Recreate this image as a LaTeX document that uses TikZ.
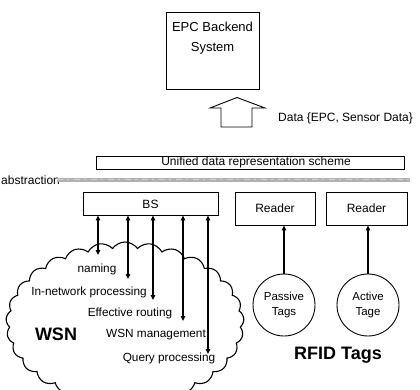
\documentclass[tikz,border=0pt]{standalone}
\usepackage{fontspec}
\setmainfont{Liberation Sans}
\usetikzlibrary{shapes.symbols,arrows.meta}
\begin{document}
\begin{tikzpicture}[x=1pt,y=-1pt,
  every node/.style={font=\fontsize{12}{14}\selectfont, inner sep=0pt},
  box/.style={draw, line width=0.9pt, minimum width=#1},
  tag/.style={draw, circle, line width=0.9pt, minimum size=62pt, align=center,
    font=\fontsize{11.5}{15}\selectfont},
  dbl/.style={line width=1.6pt, {Triangle[length=5pt,width=4.5pt]}-{Triangle[length=5pt,width=4.5pt]}},
  up/.style={line width=1.6pt, -{Triangle[length=5pt,width=4.5pt]}},
  item/.style={font=\fontsize{11.8}{14}\selectfont},
  big/.style={font=\fontsize{18}{20}\selectfont\bfseries}]
\useasboundingbox (0,0) rectangle (420,390);
\begin{scope}
\clip (0,0) rectangle (420,390);

% backend system
\node[box=93pt, minimum height=77pt] (epc) at (212.5,50.5) {};
\node[align=center, font=\fontsize{13}{20}\selectfont] (epctext) at (212.5,38) {EPC Backend\\System};

% hollow arrow towards the backend
\draw[line width=0.9pt, fill=white]
  (221,127) -- (221,108) -- (210,108) -- (237,97.5) -- (265,108) -- (252,108) -- (252,127) -- cycle;
\node[anchor=west] (data) at (278,118) {Data \{EPC, Sensor Data\}};

% unified representation
\node[box=308pt, minimum height=13pt] (udr) at (250,162.5) {};
\node (udrtext) at (256,162) {Unified data representation scheme};

% abstraction layer
\node[anchor=west] (abs) at (1,180) {abstraction};
\draw[line width=3.5pt, gray!60] (abs.east) ++(-3,0) -- (410,180);
\draw[line width=1pt, gray!35, dash pattern=on 6pt off 4pt on 2pt off 5pt] (abs.east) ++(-3,-0.5) -- (410,179.5);

% base station and readers
\node[box=135pt, minimum height=23pt] (bs) at (150.5,203.5) {};
\node (bstext) at (150.5,204) {BS};
\node[box=80pt, minimum height=33pt] (r1) at (275,208.5) {Reader};
\node[box=81pt, minimum height=33pt] (r2) at (366.5,208.5) {Reader};

% sensor network cloud
\node[cloud, draw, line width=1.1pt, cloud puffs=29, cloud puff arc=110,
  cloud ignores aspect, minimum width=238pt, minimum height=162pt] (wsn) at (125,323) {};

% services offered by the base station
\coordinate (c1) at (98,255);
\coordinate (c2) at (128,279);
\coordinate (c3) at (153,300);
\coordinate (c4) at (183,321);
\coordinate (c5) at (208,354);
\foreach \c in {c1,c2,c3,c4,c5}
  \draw[dbl] (\c |- bs.south) -- (\c);

\node[item] (naming) at (97,269) {naming};
\node[item] (innet) at (89,292) {In-network processing};
\node[item] (routing) at (130,313) {Effective routing};
\node[item] (mgmt) at (156,335) {WSN management};
\node[item] (query) at (169,358) {Query processing};
\node[big] (wsnlabel) at (56,334) {WSN};

% RFID tags
\node[tag] (passive) at (284,305) {Passive\\Tags};
\node[tag] (active) at (368,305) {Active\\Tage};
\draw[up] (passive.north) -- (passive.north |- r1.south);
\draw[up] (active.north) -- (active.north |- r2.south);
\node[big] (rfid) at (338,355) {RFID Tags};
\end{scope}
\end{tikzpicture}
\end{document}
